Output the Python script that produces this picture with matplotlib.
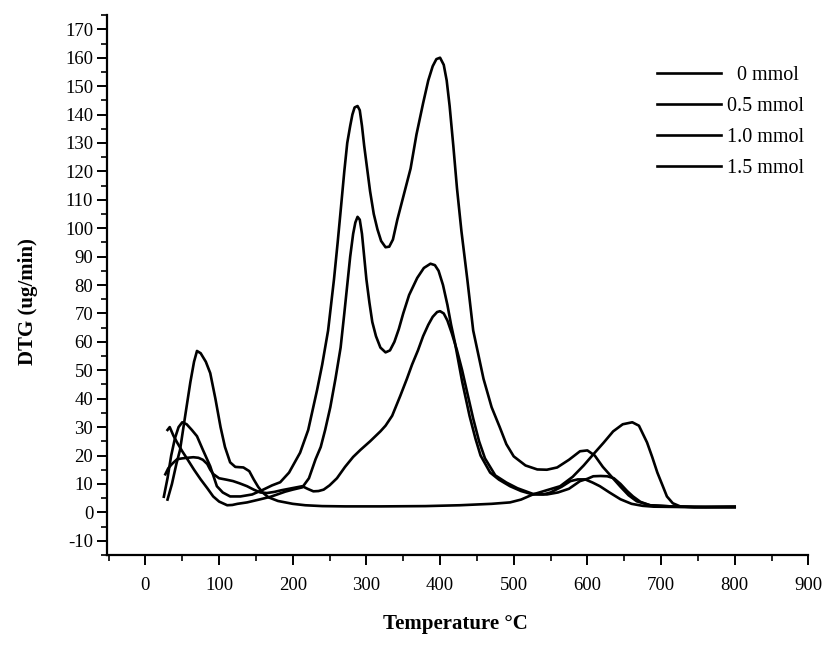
# DTG curves vs temperature for four loadings
import numpy as np
import matplotlib
matplotlib.use('Agg')
import matplotlib.pyplot as plt
from matplotlib.ticker import MultipleLocator

plt.rcParams['font.family'] = ['Liberation Serif', 'DejaVu Serif']
plt.rcParams['axes.unicode_minus'] = False

labels = ['  0 mmol', '0.5 mmol', '1.0 mmol', '1.5 mmol']

# curve with 57 peak at 70 C and late peak near 665 C
x_a = [30, 36, 42, 47, 54, 61, 66, 70, 75, 82, 88, 95, 102, 108, 115, 122, 133, 141, 147, 153,
       159, 167, 180, 200, 217, 240, 271, 320, 380, 427, 470, 495, 510, 526, 545, 563, 580, 595,
       608, 622, 635, 648, 661, 670, 681, 688, 695, 702, 708, 716, 726, 745, 770, 800]
y_a = [4.5, 10, 17, 22, 34, 45.8, 53, 56.8, 56, 53, 49, 40, 30, 23, 17.6, 16, 15.8, 14.5, 11.6, 9,
       7, 5.3, 4, 3, 2.5, 2.2, 2.1, 2.1, 2.2, 2.5, 3, 3.5, 4.5, 6.3, 7.8, 9.2, 12.5, 16.5,
       20.4, 24.5, 28.5, 31, 31.7, 30.5, 24.6, 19.5, 14, 9.5, 5.6, 3.2, 2.1, 1.8, 1.9, 2.0]

# curve with 143 / 160 peaks
x_b = [25, 30, 35, 40, 45, 50, 56, 63, 70, 78, 88, 97, 105, 115, 129, 145, 160, 172, 183, 195,
       210, 221, 233, 240, 248, 256, 261, 265, 270, 274, 278, 281, 284, 288, 291, 294, 297, 301,
       305, 310, 315, 320, 326, 331, 336, 342, 351, 360, 368, 377, 384, 390, 395, 400, 405, 409,
       413, 418, 423, 429, 437, 445, 459, 470, 481, 490, 500, 516, 532, 545, 559, 575, 590, 600,
       610, 621, 633, 645, 656, 667, 685, 720, 760, 800]
y_b = [5.5, 12, 20, 26, 30, 31.7, 31, 29, 26.8, 22, 16.2, 9.2, 7, 5.6, 5.6, 6.3, 8, 9.5, 10.6, 14,
       21, 29, 43, 52, 64, 82, 95, 106, 120, 130, 136, 140, 142.5, 143, 141.5, 136, 129, 121,
       113, 105, 99.6, 95.5, 93.3, 93.5, 96, 103, 112, 121, 133, 144, 152, 157, 159.5, 160, 157.5, 152,
       143, 129, 114, 99, 82, 64, 47, 37, 30, 24, 19.7, 16.5, 15.1, 15, 15.8, 18.5, 21.5, 21.8,
       20, 16, 12.5, 9, 6, 3.9, 2.5, 2.0, 1.9, 2.0]

# curve with 104 / 88 peaks
x_c = [30, 33, 38, 43, 50, 57, 66, 75, 84, 92, 100, 111, 118, 125, 138, 156, 170, 179, 190, 200,
       213, 222, 231, 238, 244, 251, 258, 265, 270, 274, 278, 282, 285, 288, 291, 294, 297, 300,
       304, 308, 313, 319, 326, 332, 338, 344, 350, 358, 369, 378, 387, 393, 398, 404, 410, 415,
       420, 430, 440, 448, 455, 468, 480, 495, 510, 526, 540, 550, 565, 577, 587, 597, 607, 617,
       630, 645, 660, 675, 690, 720, 760, 800]
y_c = [29, 30, 27, 24.6, 21.5, 18.7, 15, 11.6, 8.5, 5.6, 3.8, 2.5, 2.6, 3, 3.5, 4.6, 5.5, 6.3, 7.3, 8,
       8.8, 12, 18.7, 23, 29, 37, 47, 58, 70, 80, 90, 98, 102, 104, 103, 98, 90, 82,
       74, 67, 62, 58, 56.3, 57, 60, 64.5, 70, 76.5, 82.5, 86, 87.5, 87, 85, 80, 73, 66,
       60, 46, 34, 26, 20, 14, 11.5, 9.2, 7.5, 6.3, 6.3, 7, 9, 11, 11.6, 11.6, 10.5, 9.2,
       7, 4.6, 3, 2.3, 2.0, 1.9, 1.8, 1.8]

# curve with 28 shoulder and 71 peak
x_d = [27, 31, 36, 43, 50, 57, 65, 72, 78, 84, 88, 92, 100, 110, 119, 128, 138, 147, 156, 165,
       175, 185, 195, 205, 213, 220, 228, 235, 242, 250, 260, 271, 282, 292, 305, 313, 319, 326,
       335, 346, 355, 362, 370, 377, 384, 390, 396, 400, 405, 410, 416, 423, 430, 437, 445, 453,
       461, 475, 490, 505, 526, 545, 560, 575, 590, 600, 608, 618, 627, 636, 645, 654, 662, 672,
       685, 720, 760, 800]
y_d = [13.4, 15.5, 17, 18.7, 19, 19.2, 19.4, 19.2, 18.5, 17, 15, 13.5, 12, 11.5, 11, 10.2, 9.2, 8, 7, 6.8,
       7.2, 7.8, 8.3, 8.8, 9.2, 8.3, 7.4, 7.5, 8, 9.5, 12, 16, 19.5, 22, 25, 27, 28.5, 30.5,
       34, 41, 47, 52, 57, 62, 66, 68.8, 70.5, 70.8, 70, 67.5, 63, 57, 50, 42, 33, 25,
       19, 13, 10.5, 8.5, 6.5, 6.3, 7, 8.3, 11, 11.8, 12.7, 12.8, 12.7, 12, 10, 7.5, 5.6, 3.7,
       2.5, 2.0, 1.9, 1.8]

series = [(x_a, y_a), (x_b, y_b), (x_c, y_c), (x_d, y_d)]

fig = plt.figure(figsize=(8.24, 6.56), dpi=100)
ax = fig.add_axes([0.130, 0.154, 0.851, 0.823])

for (xs, ys), lab in zip(series, labels):
    ax.plot(xs, ys, color='black', linewidth=1.9, label=lab, solid_joinstyle='round')

ax.set_xlim(-52, 900)
ax.set_ylim(-15, 175)
ax.xaxis.set_minor_locator(MultipleLocator(50))
ax.yaxis.set_minor_locator(MultipleLocator(5))
ax.set_yticks(np.arange(-10, 171, 10))
ax.set_xticks(np.arange(0, 901, 100))

for s in ['top', 'right']:
    ax.spines[s].set_visible(False)
for s in ['left', 'bottom']:
    ax.spines[s].set_linewidth(1.6)
ax.tick_params(which='major', direction='out', length=7, width=1.4, labelsize=13.5, pad=3)
ax.tick_params(which='minor', direction='out', length=4, width=1.2)
ax.tick_params(axis='x', which='major', pad=9)

ax.set_ylabel('DTG (ug/min)', fontsize=15, fontweight='bold')
ax.yaxis.set_label_coords(-0.098, 0.47)
ax.set_xlabel('Temperature °C', fontsize=15, fontweight='bold')
ax.xaxis.set_label_coords(0.497, -0.11)

ax.legend(loc='upper left', bbox_to_anchor=(0.797, 0.900), bbox_transform=fig.transFigure,
          frameon=False, fontsize=14.5, handlelength=3.2, handletextpad=0.3,
          labelspacing=0.6, borderpad=0, borderaxespad=0)

fig.savefig('out.png', dpi=100)
